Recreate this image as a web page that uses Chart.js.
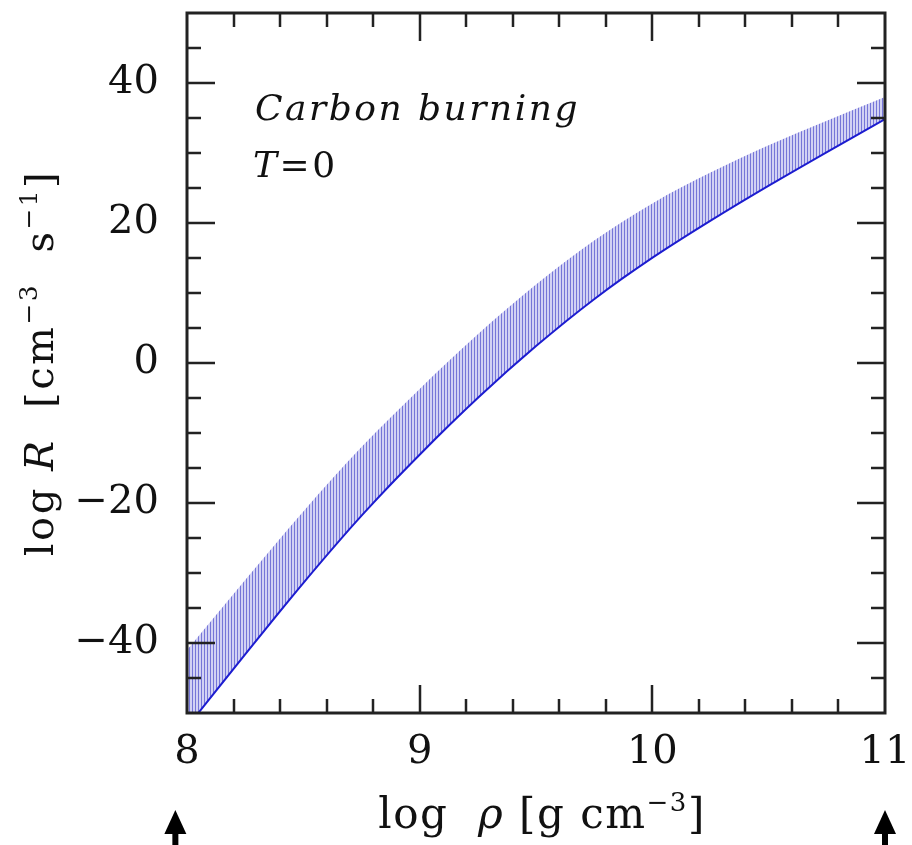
<!DOCTYPE html>
<html>
<head>
<meta charset="utf-8">
<script src="https://cdn.jsdelivr.net/npm/chart.js@4.4.0/dist/chart.umd.min.js"></script>
<style>
  html, body { margin: 0; padding: 0; background: #fff; }
</style>
</head>
<body>
<canvas id="myChart" width="912" height="845"></canvas>
<script>
// values
var logRho   = [8.0, 8.25, 8.5, 8.75, 9.0, 9.25, 9.5, 9.75, 10.0, 10.25, 10.5, 10.75, 11.0];
var logRLow  = [-51.8, -41.4, -31.2, -21.6, -12.9, -4.8, 2.6, 9.3, 15.2, 20.5, 25.5, 30.3, 35.0];
var logRHigh = [-41.0, -31.0, -21.2, -12.0, -3.7, 4.1, 11.2, 17.5, 22.8, 27.2, 31.1, 34.6, 38.0];
var xTickVals = [8, 9, 10, 11];
var yTickVals = [-40, -20, 0, 20, 40];
var arrowAt = [7.95, 11];

var serif = "'DejaVu Serif', 'Liberation Serif', serif";

// hatch pattern for the band
function hatch() {
  let c = document.createElement("canvas");
  c.width = 3;
  c.height = 4;
  let g = c.getContext("2d");
  g.fillStyle = "#d2d2f4";
  g.fillRect(0, 0, 3, 4);
  g.fillStyle = "#7676d8";
  g.fillRect(0, 0, 1, 4);
  return g.createPattern(c, "repeat");
}

function pairs(ys) {
  return logRho.map((v, i) => ({ x: v, y: ys[i] }));
}

// draw a mix of upright / italic / superscript bits
function drawRich(ctx, parts, size, cx, cy, spacing) {
  ctx.letterSpacing = spacing + "px";
  let total = 0;
  parts.forEach((p) => {
    let s = p.sup ? size * 0.62 : size;
    ctx.font = (p.it ? "italic " : "") + s + "px " + serif;
    p.w = ctx.measureText(p.t).width;
    p.s = s;
    total += p.w;
  });
  let x = cx - total / 2;
  ctx.textAlign = "left";
  ctx.textBaseline = "alphabetic";
  parts.forEach((p) => {
    ctx.font = (p.it ? "italic " : "") + p.s + "px " + serif;
    ctx.fillText(p.t, x, cy + (p.sup ? -size * 0.4 : 0));
    x += p.w;
  });
  ctx.letterSpacing = "0px";
}

function noPad(axis) {
  axis.paddingLeft = 0;
  axis.paddingRight = 0;
  axis.paddingTop = 0;
  axis.paddingBottom = 0;
}

const frameTicks = {
  id: "frameTicks",
  afterDatasetsDraw(chart) {
    const { ctx, chartArea: a, scales } = chart;
    const x = scales.x, y = scales.y;
    ctx.save();
    ctx.strokeStyle = "#222";
    ctx.lineWidth = 2.5;
    ctx.beginPath();
    for (let i = 1; i < 15; i++) {
      let v = 8 + i * 0.2;
      let px = Math.round(x.getPixelForValue(v));
      let len = i % 5 === 0 ? 28 : 14;
      ctx.moveTo(px, a.bottom); ctx.lineTo(px, a.bottom - len);
      ctx.moveTo(px, a.top); ctx.lineTo(px, a.top + len);
    }
    for (let v = -45; v <= 45; v += 5) {
      let py = Math.round(y.getPixelForValue(v));
      let len = v % 20 === 0 ? 28 : 14;
      ctx.moveTo(a.left, py); ctx.lineTo(a.left + len, py);
      ctx.moveTo(a.right, py); ctx.lineTo(a.right - len, py);
    }
    ctx.stroke();
    ctx.lineWidth = 3;
    ctx.strokeRect(a.left, a.top, a.right - a.left, a.bottom - a.top);
    ctx.restore();
  },
  afterDraw(chart) {
    const { ctx, chartArea: a, scales } = chart;
    ctx.save();
    ctx.fillStyle = "#111";

    // annotation
    ctx.font = "italic 36px " + serif;
    ctx.letterSpacing = "2.5px";
    ctx.textAlign = "left";
    ctx.textBaseline = "alphabetic";
    ctx.fillText("Carbon burning", 255, 120);
    ctx.fillText("T", 253, 177);
    let tw = ctx.measureText("T").width;
    ctx.font = "36px " + serif;
    ctx.fillText("=0", 253 + tw, 177);
    ctx.letterSpacing = "0px";

    // x title
    drawRich(ctx, [
      { t: "log  " },
      { t: "ρ", it: true },
      { t: " [g cm" },
      { t: "−3", sup: true },
      { t: "]" }
    ], 42, (a.left + a.right) / 2 + 6, 828, 1.5);

    // y title
    ctx.translate(53, (a.top + a.bottom) / 2);
    ctx.rotate(-Math.PI / 2);
    drawRich(ctx, [
      { t: "log " },
      { t: "R", it: true },
      { t: "  [cm" },
      { t: "−3", sup: true },
      { t: "  s" },
      { t: "−1", sup: true },
      { t: "]" }
    ], 40, 0, 0, 2.5);
    ctx.restore();

    // arrows under the axis
    ctx.save();
    ctx.fillStyle = "#000";
    arrowAt.forEach((v) => {
      let px = scales.x.getPixelForValue(v);
      ctx.fillRect(px - 3, 830, 6, 15);
      ctx.beginPath();
      ctx.moveTo(px - 11, 834);
      ctx.lineTo(px + 11, 834);
      ctx.lineTo(px, 810);
      ctx.closePath();
      ctx.fill();
    });
    ctx.restore();
  }
};

new Chart("myChart", {
  type: "line",
  data: {
    datasets: [
      {
        data: pairs(logRHigh),
        borderWidth: 0,
        pointRadius: 0,
        fill: "+1",
        backgroundColor: hatch(),
        cubicInterpolationMode: "monotone"
      },
      {
        data: pairs(logRLow),
        borderColor: "#1c1cd0",
        borderWidth: 4,
        pointRadius: 0,
        fill: false,
        cubicInterpolationMode: "monotone"
      }
    ]
  },
  options: {
    responsive: false,
    animation: false,
    devicePixelRatio: 1,
    layout: { padding: { top: 13, right: 27, left: 0, bottom: 0 } },
    plugins: { legend: { display: false }, tooltip: { enabled: false } },
    scales: {
      x: {
        type: "linear",
        min: 8,
        max: 11,
        afterBuildTicks: (axis) => { axis.ticks = xTickVals.map((v) => ({ value: v })); },
        afterFit: (axis) => { axis.height = 132; noPad(axis); },
        grid: { display: false, drawTicks: false },
        border: { display: false },
        ticks: { padding: 16, color: "#111", font: { family: serif, size: 40 }, maxRotation: 0 }
      },
      y: {
        type: "linear",
        min: -50,
        max: 50,
        afterBuildTicks: (axis) => { axis.ticks = yTickVals.map((v) => ({ value: v })); },
        afterFit: (axis) => { axis.width = 187; noPad(axis); },
        grid: { display: false, drawTicks: false },
        border: { display: false },
        ticks: {
          padding: 28,
          color: "#111",
          font: { family: serif, size: 40 },
          callback: (v) => String(v).replace("-", "\u2212")
        }
      }
    }
  },
  plugins: [frameTicks]
});
</script>
</body>
</html>
